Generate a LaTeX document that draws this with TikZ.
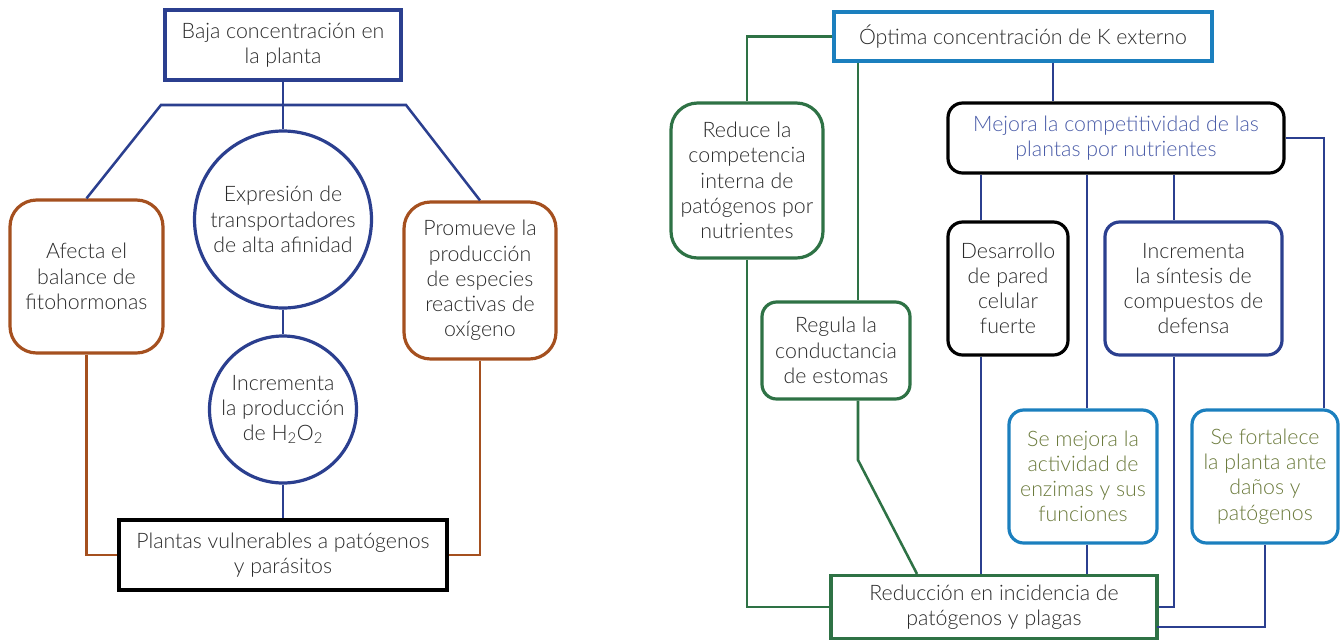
\documentclass[tikz,border=0pt]{standalone}
\usepackage{fontspec}
\setmainfont{Lato}[UprightFont=* Light, BoldFont=* Regular]
\usetikzlibrary{calc}
\definecolor{navy}{HTML}{2B3F8F}
\definecolor{rust}{HTML}{A5501F}
\definecolor{forest}{HTML}{2E7245}
\definecolor{sky}{HTML}{1B7FBE}
\definecolor{txt}{HTML}{2A2A2A}
\definecolor{mejtxt}{HTML}{4A5CA8}
\definecolor{olive}{HTML}{6B7A3C}
\begin{document}
\begin{tikzpicture}[x=0.75pt,y=-0.75pt,
  every node/.style={font=\fontsize{16}{18.9}\selectfont, text=txt, align=center, inner sep=0pt},
  sz/.style 2 args={minimum width=#1*0.75pt, minimum height=#2*0.75pt},
  sq/.style={draw, rectangle, line width=2.4pt},
  rb/.style={draw, rectangle, rounded corners=20pt, line width=2.4pt},
  rbs/.style={draw, rectangle, rounded corners=11pt, line width=2.4pt},
  circ/.style={draw, circle, line width=2.4pt},
  bl/.style={draw=navy, line width=1.9pt},
  br/.style={draw=rust, line width=1.9pt},
  gl/.style={draw=forest, line width=1.9pt}]
\useasboundingbox (0,0) rectangle (1340,640);

% ---------- left diagram ----------
\node[sq, draw=navy, sz={236}{70}] (top) at (283,45) {Baja concentración en\\la planta};
\node[rb, draw=rust, sz={153}{153}] (lb) at (86.5,276.5) {Afecta el\\balance de\\fitohormonas};
\node[rb, draw=rust, sz={152}{157}] (rbx) at (480,280.5) {Promueve la\\producción\\de especies\\reactivas de\\oxígeno};
\node[circ, draw=navy, minimum size=177*0.75pt] (c1) at (283,219.5) {Expresión de\\transportadores\\de alta afinidad};
\node[circ, draw=navy, minimum size=147*0.75pt] (c2) at (283,409.5) {Incrementa\\la producción\\de H\textsubscript{2}O\textsubscript{2}};
\node[sq, draw=black, sz={328}{70}] (bb) at (283,555) {Plantas vulnerables a patógenos\\y parásitos};

\coordinate (barL) at (161,105);
\coordinate (barR) at (406,105);
\coordinate (barC) at (283,105);
\draw[bl] (top.south) -- (barC);
\draw[bl] (lb.north) -- (barL) -- (barR) -- (rbx.north);
\draw[bl] (barC) -- (c1.north);
\draw[bl] (c1.south) -- (c2.north);
\draw[bl] (c2.south) -- (bb.north);
\draw[br] (lb.south) |- (bb.west);
\draw[br] (rbx.south) |- (bb.east);

% ---------- right diagram ----------
\node[sq, draw=sky, sz={378}{49}] (K) at (1023,36.5) {Óptima concentración de K externo};
\node[rb, draw=forest, sz={152}{155}] (red) at (747,180.5) {Reduce la\\competencia\\interna de\\patógenos por\\nutrientes};
\node[rbs, draw=black, sz={336}{70}, text=mejtxt] (mej) at (1116,138) {Mejora la competitividad de las\\plantas por nutrientes};
\node[rbs, draw=black, sz={120}{133}] (des) at (1008,288.5) {Desarrollo\\de pared\\celular\\fuerte};
\node[rbs, draw=navy, sz={177}{133}] (inc) at (1193.5,288.5) {Incrementa\\la síntesis de\\compuestos de\\defensa};
\node[rbs, draw=forest, sz={148}{97}] (reg) at (836,350.5) {Regula la\\conductancia\\de estomas};
\node[rbs, draw=sky, sz={148}{133}, text=olive] (sem) at (1083,476.5) {Se mejora la\\actividad de\\enzimas y sus\\funciones};
\node[rbs, draw=sky, sz={146}{133}, text=olive] (sef) at (1265,476.5) {Se fortalece\\la planta ante\\daños y\\patógenos};
\node[sq, draw=forest, sz={326}{63}] (redu) at (994,607) {Reducción en incidencia de\\patógenos y plagas};

% green connectors
\coordinate (kg) at (858,0);
\coordinate (kgb) at (858,460);
\coordinate (kgc) at (917,0);
\draw[gl] (K.west) -| (red.north);
\draw[gl] (kg |- K.south) -- (kg |- reg.north);
\draw[gl] (kg |- reg.south) -- (kgb) -- (kgc |- redu.north);
\draw[gl] (red.south) |- (redu.west);

% blue connectors
\coordinate (kb) at (1053,0);
\coordinate (fr) at (1324,0);
\coordinate (m1) at (981,0);
\coordinate (m2) at (1087,0);
\coordinate (m3) at (1174,0);
\coordinate (re2) at (1157,627);
\draw[bl] (kb |- K.south) -- (kb |- mej.north);
\draw[bl] (mej.east) -| (fr |- sef.north);
\draw[bl] (m1 |- mej.south) -- (m1 |- des.north);
\draw[bl] (m1 |- des.south) -- (m1 |- redu.north);
\draw[bl] (m2 |- mej.south) -- (m2 |- sem.north);
\draw[bl] (m2 |- sem.south) -- (m2 |- redu.north);
\draw[bl] (m3 |- mej.south) -- (m3 |- inc.north);
\draw[bl] (m3 |- inc.south) |- (redu.east);
\draw[bl] (sef.south) |- (re2);
\end{tikzpicture}
\end{document}
